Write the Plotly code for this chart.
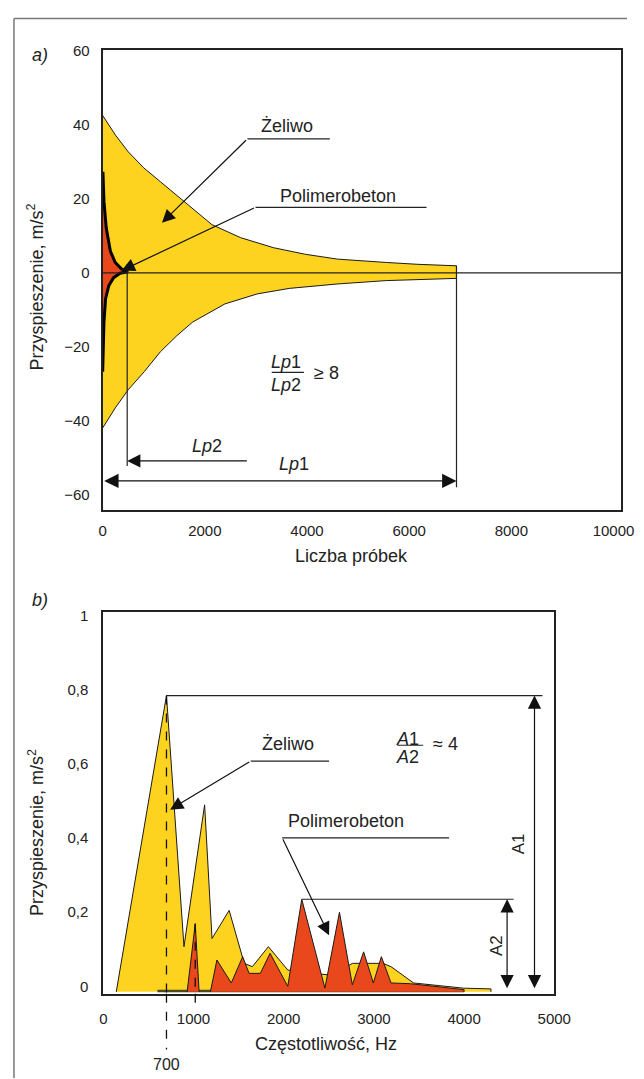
import plotly.graph_objects as go

# ---------------- Panel a) : Liczba próbek ----------------
zel_a_top_x = [0, 250, 500, 800, 1130, 1450, 1760, 2140, 2700, 3340, 3970, 4600, 5550, 6170, 6926]
zel_a_top_y = [42.5, 37.2, 32.7, 28.4, 24.6, 21.0, 17.5, 13.0, 9.5, 6.8, 5.0, 3.7, 2.8, 2.3, 1.9]
zel_a_bot_x = [0, 246, 498, 814, 1131, 1450, 1761, 2392, 3023, 3655, 4602, 5549, 6926]
zel_a_bot_y = [-41.9, -36.5, -31.6, -26.7, -21.3, -17.0, -13.3, -8.4, -5.7, -4.2, -3.0, -2.1, -1.5]

pol_a_top_x = [0, 6, 25, 70, 150, 246, 373, 498]
pol_a_top_y = [26.9, 26.9, 19.3, 12.1, 5.9, 2.8, 1.0, 0.3]
pol_a_bot_x = [0, 6, 25, 57, 119, 214, 341]
pol_a_bot_y = [-26.7, -20.4, -13.3, -7.0, -3.5, -1.3, -0.1]

lp1 = 6926
lp2 = 480

a_xticks = [0, 2000, 4000, 6000, 8000, 10000]
a_xticklabels = ["0", "2000", "4000", "6000", "8000", "10000"]
a_yticks = [-60, -40, -20, 0, 20, 40, 60]
a_yticklabels = ["−60", "−40", "−20", "0", "20", "40", "60"]

# ---------------- Panel b) : Częstotliwość ----------------
zel_b_x = [143, 700, 894, 1123, 1205, 1395, 1562, 1652, 1830, 2045, 2300, 2550, 2761, 3100, 3190, 3440, 3995, 4298, 4298]
zel_b_y = [-0.015, 0.785, 0.107, 0.49, 0.129, 0.205, 0.062, 0.053, 0.107, 0.044, 0.035, 0.03, 0.062, 0.062, 0.053, 0.009, -0.005, -0.007, -0.015]

pol_b1_x = [929, 1019, 1062]
pol_b1_y = [-0.015, 0.169, -0.015]
pol_b2_x = [1187, 1259, 1419, 1545, 1616, 1741, 1849, 2045, 2200, 2457, 2618, 2761, 2886, 2994, 3083, 3190, 3405, 4000, 4000]
pol_b2_y = [-0.015, 0.071, 0.009, 0.08, 0.035, 0.035, 0.089, 0.0, 0.235, -0.005, 0.2, 0.004, 0.093, 0.009, 0.08, 0.009, 0.007, -0.009, -0.015]

b_xticks = [0, 1000, 2000, 3000, 4000, 5000]
b_xticklabels = ["0", "1000", "2000", "3000", "4000", "5000"]
b_yticks = [0, 0.2, 0.4, 0.6, 0.8, 1]
b_yticklabels = ["0", "0,2", "0,4", "0,6", "0,8", "1"]

peak_f = 700
A1 = 0.785
A2 = 0.235

YEL = "#FDD31F"
RED = "#E9471C"
INK = "#1a1a1a"
FONT = "Liberation Sans, Arial, sans-serif"

W, H = 644, 1079

fig = go.Figure()

# panel a traces
fig.add_trace(go.Scatter(
    x=zel_a_top_x + zel_a_bot_x[::-1], y=zel_a_top_y + zel_a_bot_y[::-1],
    fill="toself", fillcolor=YEL, mode="lines", line=dict(color=INK, width=1),
    xaxis="x", yaxis="y", hoverinfo="skip", showlegend=False))
fig.add_trace(go.Scatter(
    x=pol_a_top_x + pol_a_bot_x[::-1], y=pol_a_top_y + pol_a_bot_y[::-1],
    fill="toself", fillcolor=RED, mode="lines", line=dict(color="#000", width=3),
    xaxis="x", yaxis="y", hoverinfo="skip", showlegend=False))

# panel b traces
fig.add_trace(go.Scatter(
    x=zel_b_x, y=zel_b_y, fill="toself", fillcolor=YEL, mode="lines",
    line=dict(color=INK, width=1), xaxis="x2", yaxis="y2", hoverinfo="skip", showlegend=False))
fig.add_trace(go.Scatter(
    x=[600, 4000], y=[-0.013, -0.013], mode="lines", line=dict(color="#4a4a1a", width=2.5),
    xaxis="x2", yaxis="y2", hoverinfo="skip", showlegend=False))
fig.add_trace(go.Scatter(
    x=pol_b1_x, y=pol_b1_y, fill="toself", fillcolor=RED, mode="lines",
    line=dict(color=INK, width=1), xaxis="x2", yaxis="y2", hoverinfo="skip", showlegend=False))
fig.add_trace(go.Scatter(
    x=pol_b2_x, y=pol_b2_y, fill="toself", fillcolor=RED, mode="lines",
    line=dict(color=INK, width=1), xaxis="x2", yaxis="y2", hoverinfo="skip", showlegend=False))

shapes = []
ann = []

def seg(x0, y0, x1, y1, xr="x", yr="y", w=1.2, dash=None, color="#222"):
    d = dict(type="line", x0=x0, y0=y0, x1=x1, y1=y1, xref=xr, yref=yr,
             line=dict(color=color, width=w))
    if dash:
        d["line"]["dash"] = dash
    shapes.append(d)

def txt(x, y, s, xr="x", yr="y", size=18, angle=0, xanchor="center"):
    ann.append(dict(x=x, y=y, xref=xr, yref=yr, text=s, showarrow=False,
                    font=dict(family=FONT, size=size, color="#222"),
                    textangle=angle, xanchor=xanchor, yanchor="middle"))

def arrow(x, y, ax, ay, xr="x", yr="y", both=False, size=2.2, w=1.2):
    d = dict(x=x, y=y, ax=ax, ay=ay, xref=xr, yref=yr, axref=xr, ayref=yr,
             text="", showarrow=True, arrowhead=2, arrowsize=size, arrowwidth=w,
             arrowcolor="#111", standoff=0, startstandoff=0)
    if both:
        d["arrowside"] = "end+start"
        d["startarrowhead"] = 2
        d["startarrowsize"] = size
    ann.append(d)

# ---- panel a decorations ----
seg(0, 0, 10150, 0, w=1.2)
seg(lp2, 2.4, lp2, -52.2)
seg(lp1, 1.9, lp1, -57.9)
# Żeliwo leader
seg(2835, 36.2, 4445, 36.2)
arrow(1161, 13.5, 2835, 36.2)
txt(3617, 39.6, "Żeliwo")
# Polimerobeton leader
seg(2992, 17.7, 6339, 17.7)
arrow(373, 0.6, 2992, 17.7)
txt(4602, 20.8, "Polimerobeton")
# Lp arrows
arrow(-27, -50.8, -1038, -50.8)
arrow(lp2, -50.8, 2852, -50.8)
arrow(lp1, -56.2, 0, -56.2, both=True, size=2.4)
txt(2034, -46.8, "<i>Lp</i>2")
txt(3746, -51.6, "<i>Lp</i>1")
# ratio
txt(3593, -24.0, "<i>Lp</i>1")
seg(3309, -26.9, 3939, -26.9, w=1.1)
txt(3593, -30.3, "<i>Lp</i>2")
txt(4090, -27.1, "≥ 8", xanchor="left")

# ---- panel b decorations ----
# dashed 700 Hz line
seg(peak_f, A1, peak_f, -0.02, xr="x2", yr="y2", w=1.3, dash="dash", color="#111")
seg(peak_f, 0, peak_f, -0.146, xr="x2", yr="y2 domain", w=1.3, dash="dash", color="#111")
seg(1019, 0.169, 1019, -0.02, xr="x2", yr="y2", w=1.3, dash="dash", color="#111")
seg(1019, 0, 1019, -0.033, xr="x2", yr="y2 domain", w=1.3, dash="dash", color="#111")
ann.append(dict(x=peak_f, y=1 - 1065 / H, xref="x2", yref="paper", text="700", showarrow=False,
                font=dict(family=FONT, size=16, color="#222"), xanchor="center", yanchor="middle"))
# A1 / A2 lines
seg(peak_f, A1, 4869, A1, xr="x2", yr="y2")
arrow(4781, A1, 4781, -0.009, xr="x2", yr="y2", both=True, size=2.2)
txt(4601, 0.384, "A1", xr="x2", yr="y2", size=17, angle=-90)
seg(2200, A2, 4549, A2, xr="x2", yr="y2")
arrow(4477, A2, 4477, -0.009, xr="x2", yr="y2", both=True, size=2.2)
txt(4352, 0.111, "A2", xr="x2", yr="y2", size=17, angle=-90)
# Żeliwo leader
seg(1634, 0.608, 2503, 0.608, xr="x2", yr="y2")
arrow(740, 0.477, 1634, 0.608, xr="x2", yr="y2")
txt(2045, 0.655, "Żeliwo", xr="x2", yr="y2")
# Polimerobeton leader
seg(1983, 0.401, 3834, 0.401, xr="x2", yr="y2")
arrow(2503, 0.138, 1983, 0.401, xr="x2", yr="y2")
txt(2696, 0.446, "Polimerobeton", xr="x2", yr="y2")
# ratio
txt(3370, 0.669, "<i>A</i>1", xr="x2", yr="y2")
seg(3261, 0.651, 3547, 0.651, xr="x2", yr="y2", w=1.1)
txt(3370, 0.620, "<i>A</i>2", xr="x2", yr="y2")
txt(3630, 0.653, "≈ 4", xr="x2", yr="y2", xanchor="left")

# ---- outer frame & panel labels / titles ----
fx, fy = 10.3 / W, 1 - 10.7 / H
shapes.append(dict(type="line", xref="paper", yref="paper", x0=fx, y0=fy, x1=1, y1=fy,
                   line=dict(color="#777", width=1.5)))
shapes.append(dict(type="line", xref="paper", yref="paper", x0=fx, y0=0, x1=fx, y1=fy,
                   line=dict(color="#777", width=1.5)))

def ptxt(px, py, s, size=18, angle=0, italic=False):
    if italic:
        s = "<i>" + s + "</i>"
    ann.append(dict(x=px / W, y=1 - py / H, xref="paper", yref="paper", text=s, showarrow=False,
                    font=dict(family=FONT, size=size, color="#222"), textangle=angle,
                    xanchor="center", yanchor="middle"))

ptxt(37, 47, "a)", italic=True)
ptxt(37, 597, "b)", italic=True)
ptxt(33, 281, "Przyspieszenie, m/s<sup>2</sup>", angle=-90)
ptxt(33, 831, "Przyspieszenie, m/s<sup>2</sup>", angle=-90)
ptxt(359, 553, "Liczba próbek")
ptxt(333, 1045, "Częstotliwość, Hz")

axis_common = dict(showline=True, mirror=True, linecolor="#222", linewidth=2,
                   showgrid=False, zeroline=False, ticks="outside",
                   tickcolor="rgba(0,0,0,0)", tickfont=dict(family=FONT, size=15, color="#222"))

fig.update_layout(
    width=W, height=H, margin=dict(l=0, r=0, t=0, b=0),
    paper_bgcolor="white", plot_bgcolor="white",
    xaxis=dict(domain=[102 / W, 638 / W], range=[0, 10150], anchor="y",
               tickvals=a_xticks, ticktext=a_xticklabels, ticklen=6, **axis_common),
    yaxis=dict(domain=[1 - 506 / H, 1 - 42.3 / H], range=[-64, 60.2], anchor="x",
               tickvals=a_yticks, ticktext=a_yticklabels, ticklen=8, **axis_common),
    xaxis2=dict(domain=[102.7 / W, 568.8 / W], range=[0, 5000], anchor="y2",
                tickvals=b_xticks, ticktext=b_xticklabels, ticklen=10, **axis_common),
    yaxis2=dict(domain=[1 - 994 / H, 1 - 609.3 / H], range=[-0.02, 1.01], anchor="x2",
                tickvals=b_yticks, ticktext=b_yticklabels, ticklen=10, **axis_common),
    shapes=shapes, annotations=ann, showlegend=False,
)

fig.write_html("out.html")
